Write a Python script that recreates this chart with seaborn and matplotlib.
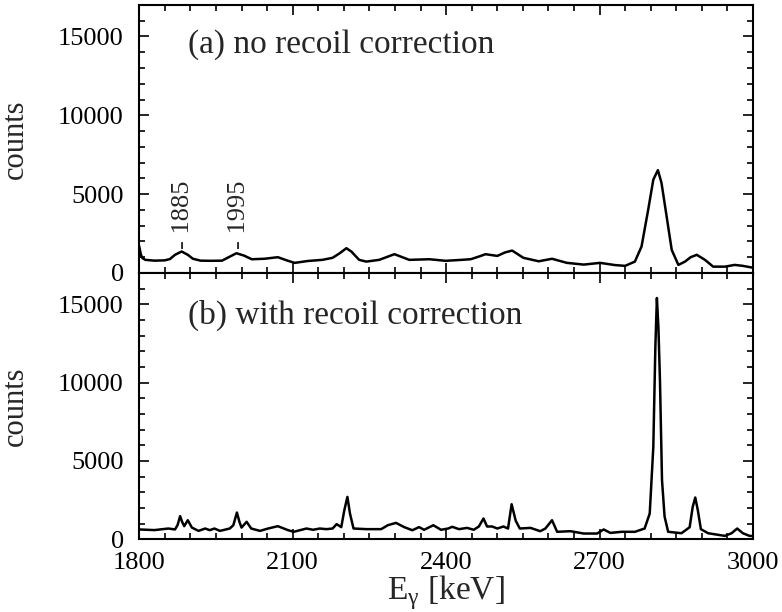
#!/usr/bin/env python
# coding: utf-8
#
import seaborn as sb
from matplotlib import pyplot as plt
from matplotlib.ticker import MultipleLocator
import pandas as pd

# (a) no recoil correction
energy_a = [1800, 1803, 1806, 1812, 1830, 1850, 1860, 1870, 1883, 1895, 1905, 1920,
            1940, 1962, 1975, 1990, 2005, 2020, 2045, 2071, 2090, 2104, 2130, 2158,
            2178, 2192, 2205, 2215, 2230, 2244, 2269, 2299, 2328, 2367, 2399, 2425,
            2448, 2465, 2477, 2500, 2515, 2529, 2551, 2581, 2607, 2636, 2669, 2701,
            2730, 2750, 2769, 2782, 2795, 2805, 2814, 2821, 2831, 2841, 2854, 2867,
            2878, 2890, 2906, 2922, 2945, 2964, 2980, 3000]
counts_a = [1700, 1200, 950, 830, 780, 800, 880, 1150, 1360, 1150, 900, 780,
            770, 780, 1000, 1250, 1100, 870, 900, 1000, 780, 640, 760, 830,
            960, 1250, 1570, 1350, 830, 720, 830, 1190, 830, 870, 770, 820,
            870, 1050, 1190, 1080, 1300, 1420, 960, 740, 900, 640, 530, 640,
            500, 450, 720, 1680, 4010, 5920, 6520, 5710, 3590, 1460, 510, 720,
            1000, 1150, 830, 400, 400, 510, 450, 330]

# (b) with recoil correction
energy_b = [1800, 1830, 1857, 1870, 1875, 1880, 1884, 1888, 1895, 1903, 1916, 1929,
            1938, 1947, 1958, 1977, 1984, 1991, 1996, 2000, 2010, 2019, 2036, 2052,
            2071, 2091, 2102, 2127, 2140, 2153, 2166, 2178, 2186, 2195, 2201, 2207,
            2212, 2219, 2244, 2273, 2286, 2302, 2318, 2334, 2347, 2357, 2375, 2390,
            2404, 2412, 2425, 2441, 2454, 2464, 2473, 2480, 2490, 2500, 2512, 2521,
            2528, 2536, 2544, 2565, 2584, 2594, 2607, 2617, 2643, 2669, 2695, 2708,
            2721, 2743, 2769, 2788, 2798, 2805, 2809, 2812, 2815, 2818, 2822, 2827,
            2834, 2860, 2876, 2882, 2887, 2892, 2898, 2912, 2945, 2958, 2969, 2980,
            2993, 3000]
counts_b = [620, 580, 680, 620, 900, 1470, 1100, 830, 1210, 740, 530, 680,
            575, 680, 530, 680, 890, 1700, 1100, 740, 1110, 680, 530, 680,
            830, 575, 470, 680, 600, 680, 640, 680, 960, 770, 1850, 2700,
            1640, 680, 640, 640, 890, 1040, 770, 570, 770, 600, 890, 600,
            680, 790, 640, 720, 600, 810, 1320, 810, 810, 680, 810, 680,
            2230, 1180, 680, 720, 510, 680, 1210, 470, 510, 360, 360, 620,
            400, 470, 470, 680, 1640, 5890, 12280, 15400, 13500, 10150, 3770, 1450,
            470, 380, 760, 2060, 2660, 1850, 640, 380, 210, 380, 680, 380,
            210, 200]

peak_labels = ['1885', '1995']
peak_energy = [1885, 1995]
panel_titles = ['(a) no recoil correction', '(b) with recoil correction']

dfA = pd.DataFrame({'E': energy_a, 'counts': counts_a})
dfB = pd.DataFrame({'E': energy_b, 'counts': counts_b})

sb.set_style('ticks')
plt.rcParams['font.family'] = ['Liberation Serif', 'DejaVu Serif']
plt.rcParams['axes.linewidth'] = 1.5
#
fig = plt.figure(figsize=(7.82, 6.12), dpi=100)
ax1 = fig.add_axes([0.178, 0.554, 0.785, 0.438])
ax2 = fig.add_axes([0.178, 0.119, 0.785, 0.435])

for ax, df, title, ty in zip([ax1, ax2], [dfA, dfB], panel_titles, [0.853, 0.842]):
    sb.lineplot(x='E', y='counts', data=df, ax=ax, color='black',
                linewidth=1.8, estimator=None, sort=True)
    ax.set_xlim(1800, 3000)
    ax.set_ylim(0, 17000)
    ax.xaxis.set_major_locator(MultipleLocator(300))
    ax.xaxis.set_minor_locator(MultipleLocator(50))
    ax.yaxis.set_major_locator(MultipleLocator(5000))
    ax.yaxis.set_minor_locator(MultipleLocator(1000))
    ax.tick_params(which='both', direction='in', top=True, right=True,
                   width=1.2, labelsize=19, colors='black')
    ax.tick_params(which='major', length=7)
    ax.tick_params(which='minor', length=4)
    ax.tick_params(axis='y', pad=11)
    ax.tick_params(axis='x', pad=9)
    ax.set_ylabel('counts', fontsize=22)
    ax.yaxis.set_label_coords(-0.178, 0.5)
    ax.text(0.08, ty, title, transform=ax.transAxes, fontsize=24,
            ha='left', va='center')
    for s in ax.spines.values():
        s.set_color('black')

ax1.set_xlabel('')
ax1.tick_params(labelbottom=False)
for e, lab in zip(peak_energy, peak_labels):
    ax1.text(e, 1550, '- ' + lab, rotation=90, ha='center', va='bottom', fontsize=19)

ax2.set_xlabel(r'E$_\mathregular{γ}$ [keV]', fontsize=24, labelpad=0)
#
fig.savefig('out.png', dpi=100)
